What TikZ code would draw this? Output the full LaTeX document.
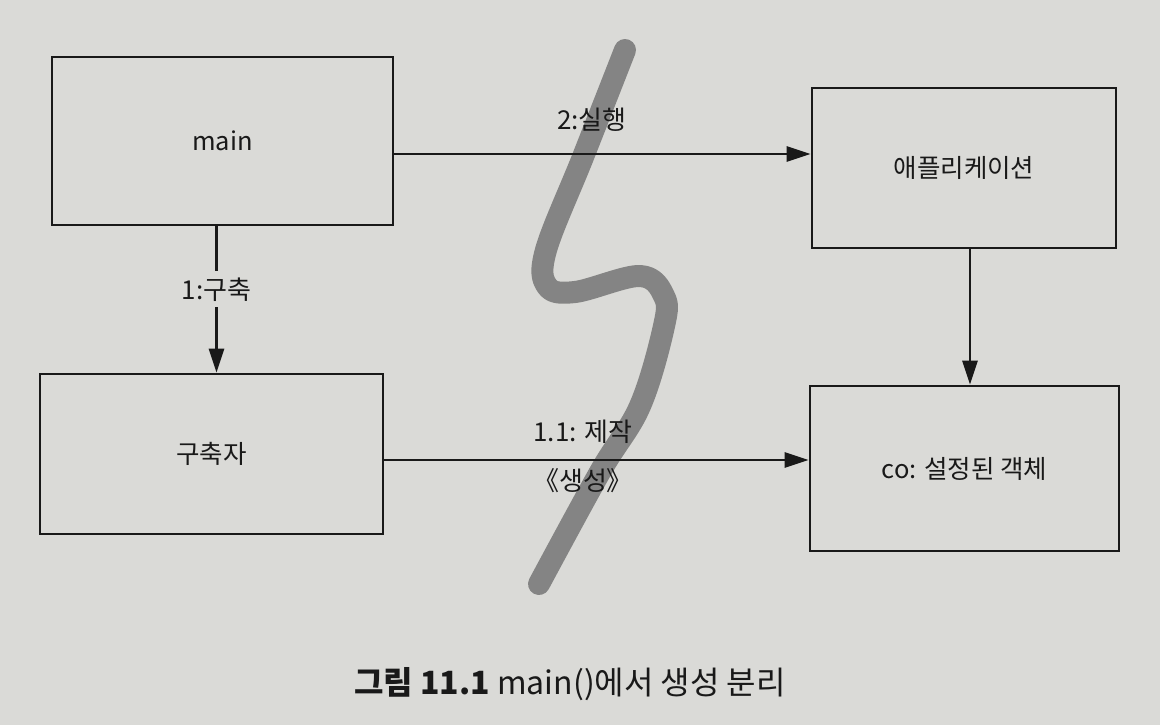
\documentclass[tikz,border=0pt]{standalone}
\usepackage{fontspec}
\setmainfont{Noto Sans CJK KR}
\usetikzlibrary{arrows.meta}
\definecolor{paper}{RGB}{218,218,215}
\definecolor{squig}{RGB}{132,132,132}
\definecolor{ink}{RGB}{25,25,25}
\tikzset{
  box/.style={draw=ink, line width=2.8pt, rectangle, font=\fontsize{25.5}{30}\selectfont, text=ink},
  conn/.style={draw=ink, line width=2.8pt, -{Stealth[length=24pt,width=15pt,inset=0pt]}},
  lbl/.style={font=\fontsize{26}{30}\selectfont, text=ink, inner sep=2pt},
}
\begin{document}
\begin{tikzpicture}[x=1pt,y=-1pt]
\fill[paper] (0,0) rectangle (1160,725);
\useasboundingbox (0,0) rectangle (1160,725);
% squiggle behind everything
\draw[squig, line width=22pt, line cap=round, line join=round]
  plot[smooth, tension=0.6] coordinates {(625,50) (583,157) (546,250) (547,286) (575,292) (640,276) (664,296) (664,326) (640,406) (600,472) (539,584)};
% boxes
\node[box, minimum width=341pt, minimum height=168pt] (main) at (222.5,141) {main};
\node[box, minimum width=304pt, minimum height=160pt] (app) at (964,168) {애플리케이션};
\node[box, minimum width=343pt, minimum height=160pt] (bld) at (211.5,454) {구축자};
\node[box, minimum width=309pt, minimum height=165pt] (co) at (964.5,468.5) {co: 설정된 객체};
% connectors
\draw[conn] ([yshift=-13pt]main.east) -- ([yshift=-13pt]main.east -| app.west);
\draw[conn] ([yshift=-6pt]bld.east) -- ([yshift=-6pt]bld.east -| co.west);
\draw[conn] ([xshift=-6pt]main.south) -- ([xshift=-6pt]main.south |- bld.north)
  node[pos=0.43, fill=paper, lbl, inner sep=6pt] (l1) {1:구축};
\draw[conn] ([xshift=6pt]app.south) -- ([xshift=6pt]app.south |- co.north);
% labels
\node[lbl] (l2) at (592,120) {2:실행};
\node[lbl] (l3) at (583,432) {1.1: 제작};
\node[lbl] (l4) at (583,481) {《생성》};
% caption
\node[font=\fontsize{32}{38}\selectfont, text=ink] (cap) at (570,684) {\textbf{그림 11.1} main()에서 생성 분리};
\end{tikzpicture}
\end{document}
